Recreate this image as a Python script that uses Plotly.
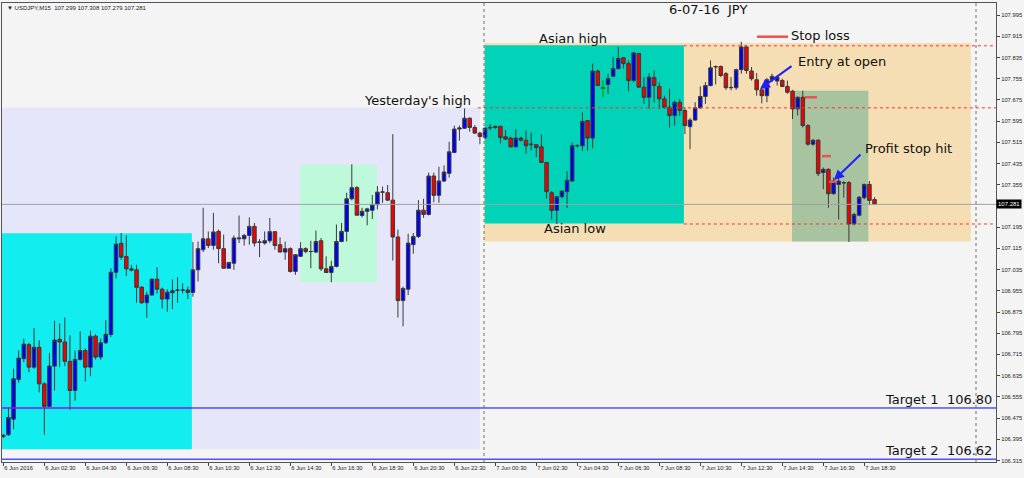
import pandas as pd
import plotly.graph_objects as go

# ---------------- data ----------------
header_text = "\u25bc USDJPY,M15  107.299 107.308 107.279 107.281"
chart_title = "6-07-16\u00a0\u00a0JPY"
first_bar = "2016-06-06 00:30"

opens = [106.405, 106.412, 106.471, 106.620, 106.699, 106.752, 106.667, 106.742, 106.604, 106.519,
         106.671, 106.772, 106.762, 106.689, 106.579, 106.696, 106.730, 106.667, 106.784, 106.705,
         106.759, 106.790, 107.025, 107.134, 107.084, 107.038, 107.034, 106.969, 106.910, 106.939,
         106.999, 106.961, 106.924, 106.948, 106.958, 106.958, 106.958, 106.949, 107.034, 107.110,
         107.151, 107.126, 107.179, 107.114, 107.040, 107.059, 107.151, 107.151, 107.164, 107.198,
         107.138, 107.135, 107.144, 107.178, 107.129, 107.101, 107.114, 107.028, 107.085, 107.114,
         107.103, 107.101, 107.144, 107.038, 107.024, 107.047, 107.141, 107.179, 107.302, 107.344,
         107.239, 107.255, 107.259, 107.280, 107.327, 107.325, 107.297, 107.158, 106.918, 106.961,
         107.129, 107.160, 107.259, 107.243, 107.388, 107.315, 107.369, 107.398, 107.477, 107.565,
         107.568, 107.606, 107.571, 107.550, 107.533, 107.569, 107.571, 107.575, 107.536, 107.531,
         107.498, 107.531, 107.523, 107.506, 107.506, 107.498, 107.439, 107.325, 107.258, 107.310,
         107.329, 107.369, 107.502, 107.502, 107.597, 107.531, 107.784, 107.719, 107.733, 107.764,
         107.793, 107.834, 107.812, 107.748, 107.850, 107.723, 107.685, 107.759, 107.726, 107.679,
         107.647, 107.616, 107.666, 107.635, 107.574, 107.599, 107.645, 107.688, 107.729, 107.799,
         107.801, 107.774, 107.721, 107.721, 107.789, 107.875, 107.784, 107.751, 107.713, 107.691,
         107.751, 107.746, 107.748, 107.726, 107.708, 107.641, 107.685, 107.578, 107.508, 107.523,
         107.401, 107.413, 107.321, 107.356, 107.363, 107.363, 107.207, 107.240, 107.306, 107.356,
         107.299]
highs = [106.415, 106.515, 106.661, 106.730, 106.775, 106.759, 106.815, 106.768, 106.610, 106.721,
         106.842, 106.831, 106.854, 106.787, 106.730, 106.802, 106.737, 106.805, 106.791, 106.775,
         106.844, 107.040, 107.160, 107.173, 107.164, 107.053, 107.053, 106.972, 106.952, 107.002,
         107.044, 106.967, 106.961, 106.998, 107.006, 106.983, 106.971, 107.139, 107.141, 107.268,
         107.179, 107.249, 107.186, 107.167, 107.062, 107.164, 107.239, 107.169, 107.232, 107.211,
         107.150, 107.179, 107.230, 107.179, 107.157, 107.141, 107.119, 107.093, 107.138, 107.119,
         107.144, 107.182, 107.154, 107.085, 107.068, 107.205, 107.211, 107.325, 107.432, 107.350,
         107.268, 107.268, 107.316, 107.350, 107.348, 107.354, 107.546, 107.186, 106.971, 107.170,
         107.173, 107.297, 107.302, 107.401, 107.401, 107.423, 107.428, 107.517, 107.578, 107.578,
         107.643, 107.609, 107.580, 107.555, 107.571, 107.584, 107.578, 107.578, 107.561, 107.536,
         107.565, 107.536, 107.559, 107.552, 107.508, 107.544, 107.441, 107.331, 107.312, 107.334,
         107.407, 107.514, 107.508, 107.628, 107.599, 107.812, 107.789, 107.748, 107.774, 107.837,
         107.875, 107.837, 107.824, 107.856, 107.852, 107.761, 107.776, 107.786, 107.742, 107.691,
         107.717, 107.672, 107.679, 107.647, 107.607, 107.666, 107.726, 107.742, 107.824, 107.805,
         107.805, 107.780, 107.761, 107.793, 107.894, 107.881, 107.799, 107.776, 107.726, 107.758,
         107.774, 107.767, 107.755, 107.748, 107.713, 107.688, 107.710, 107.584, 107.527, 107.527,
         107.420, 107.417, 107.382, 107.382, 107.369, 107.369, 107.249, 107.312, 107.359, 107.369,
         107.308]
lows = [106.400, 106.408, 106.433, 106.608, 106.686, 106.648, 106.661, 106.572, 106.412, 106.515,
        106.579, 106.667, 106.671, 106.506, 106.541, 106.692, 106.613, 106.633, 106.696, 106.694,
        106.754, 106.781, 107.002, 107.072, 107.011, 107.028, 106.910, 106.906, 106.854, 106.937,
        106.945, 106.888, 106.876, 106.886, 106.910, 106.945, 106.924, 106.933, 106.990, 107.101,
        107.116, 107.110, 107.059, 107.040, 107.038, 107.034, 107.135, 107.126, 107.129, 107.122,
        107.082, 107.129, 107.135, 107.110, 107.101, 107.072, 107.024, 107.015, 107.082, 107.097,
        107.040, 107.097, 107.030, 107.024, 106.987, 107.043, 107.138, 107.141, 107.296, 107.240,
        107.232, 107.202, 107.226, 107.262, 107.287, 107.293, 107.069, 106.854, 106.821, 106.939,
        107.095, 107.154, 107.230, 107.239, 107.289, 107.287, 107.365, 107.382, 107.474, 107.521,
        107.565, 107.555, 107.546, 107.508, 107.527, 107.561, 107.565, 107.511, 107.523, 107.495,
        107.495, 107.518, 107.473, 107.485, 107.460, 107.439, 107.303, 107.224, 107.207, 107.303,
        107.268, 107.366, 107.495, 107.483, 107.483, 107.493, 107.729, 107.685, 107.698, 107.761,
        107.789, 107.793, 107.708, 107.742, 107.721, 107.660, 107.641, 107.666, 107.641, 107.641,
        107.571, 107.578, 107.616, 107.546, 107.489, 107.597, 107.642, 107.660, 107.726, 107.733,
        107.761, 107.713, 107.711, 107.713, 107.774, 107.774, 107.748, 107.691, 107.662, 107.666,
        107.742, 107.729, 107.723, 107.698, 107.603, 107.616, 107.571, 107.502, 107.502, 107.388,
        107.338, 107.268, 107.318, 107.224, 107.306, 107.139, 107.202, 107.236, 107.300, 107.278,
        107.279]
closes = [106.410, 106.477, 106.623, 106.701, 106.754, 106.667, 106.742, 106.604, 106.519, 106.671,
          106.769, 106.762, 106.689, 106.579, 106.696, 106.730, 106.667, 106.784, 106.705, 106.759,
          106.791, 107.025, 107.131, 107.082, 107.038, 107.033, 106.968, 106.910, 106.939, 106.999,
          106.961, 106.924, 106.950, 106.955, 106.957, 106.958, 106.949, 107.034, 107.114, 107.151,
          107.126, 107.177, 107.114, 107.040, 107.062, 107.154, 107.154, 107.164, 107.198, 107.135,
          107.139, 107.144, 107.178, 107.126, 107.101, 107.114, 107.028, 107.091, 107.114, 107.103,
          107.103, 107.141, 107.038, 107.024, 107.047, 107.141, 107.179, 107.302, 107.344, 107.240,
          107.255, 107.264, 107.280, 107.327, 107.328, 107.297, 107.158, 106.918, 106.964, 107.135,
          107.160, 107.259, 107.243, 107.388, 107.315, 107.369, 107.403, 107.479, 107.565, 107.569,
          107.606, 107.571, 107.550, 107.537, 107.568, 107.571, 107.575, 107.533, 107.527, 107.498,
          107.531, 107.523, 107.502, 107.508, 107.495, 107.439, 107.329, 107.258, 107.310, 107.331,
          107.372, 107.502, 107.503, 107.594, 107.531, 107.784, 107.729, 107.721, 107.755, 107.793,
          107.831, 107.812, 107.748, 107.852, 107.723, 107.685, 107.761, 107.729, 107.679, 107.647,
          107.616, 107.666, 107.635, 107.578, 107.599, 107.645, 107.688, 107.729, 107.796, 107.801,
          107.767, 107.721, 107.722, 107.789, 107.875, 107.786, 107.755, 107.713, 107.691, 107.751,
          107.764, 107.761, 107.726, 107.704, 107.641, 107.685, 107.578, 107.508, 107.523, 107.397,
          107.413, 107.321, 107.369, 107.369, 107.362, 107.207, 107.243, 107.308, 107.356, 107.296,
          107.281]
green_bar_index = 117

x_tick_labels = ["6 Jun 2016", "6 Jun 02:30", "6 Jun 04:30", "6 Jun 06:30", "6 Jun 08:30",
                 "6 Jun 10:30", "6 Jun 12:30", "6 Jun 14:30", "6 Jun 16:30", "6 Jun 18:30",
                 "6 Jun 20:30", "6 Jun 22:30", "7 Jun 00:30", "7 Jun 02:30", "7 Jun 04:30",
                 "7 Jun 06:30", "7 Jun 08:30", "7 Jun 10:30", "7 Jun 12:30", "7 Jun 14:30",
                 "7 Jun 16:30", "7 Jun 18:30"]
y_tick_values = [107.995, 107.915, 107.835, 107.755, 107.675, 107.595, 107.515, 107.435,
                 107.355, 107.195, 107.115, 107.035, 106.955, 106.875, 106.795, 106.715,
                 106.635, 106.555, 106.475, 106.395, 106.315]
y_tick_labels = ["107.995", "107.915", "107.835", "107.755", "107.675", "107.595", "107.515",
                 "107.435", "107.355", "107.195", "107.115", "107.035", "106.955", "106.875",
                 "106.795", "106.715", "106.635", "106.555", "106.475", "106.395", "106.315"]

bid_price = 107.281
asian_high = 107.879
asian_low = 107.207
yesterday_high = 107.645
target1_line = 106.513
target2_line = 106.320
stop_marks = [107.685, 107.463, 107.366]

# ---------------- helpers ----------------
times = pd.date_range(first_bar, periods=len(opens), freq="15min")
x_tick_times = list(times[::8])


def T(b):
    return str(times[0] + pd.Timedelta(minutes=15 * b))


L, R, TOP, BOT = 2, 996, 3, 462


def PX(x):
    return (x - L) / (R - L)


def PY(y):
    return (BOT - y) / (BOT - TOP)


fig = go.Figure()
fig.add_trace(go.Candlestick(
    x=times, open=opens, high=highs, low=lows, close=closes,
    increasing=dict(line=dict(color="#3a3a3a", width=1), fillcolor="#0000f0"),
    decreasing=dict(line=dict(color="#3a3a3a", width=1), fillcolor="#f00000"),
    whiskerwidth=0, showlegend=False, hoverinfo="skip"))
fig.add_trace(go.Scatter(
    x=[times[green_bar_index], times[green_bar_index]],
    y=[lows[green_bar_index], highs[green_bar_index]],
    mode="lines", line=dict(color="#00e000", width=1), showlegend=False, hoverinfo="skip"))

shapes = []


def rect(b0, b1, p0, p1, color):
    shapes.append(dict(type="rect", xref="x", yref="y", x0=T(b0), x1=T(b1), y0=p0, y1=p1,
                       fillcolor=color, line=dict(width=0), layer="below"))


rect(-2, 93.0, 106.357, 107.646, "#e6e6fa")      # yesterday range
rect(-2, 36.8, 106.357, 107.172, "#12eef0")      # morning box
rect(57.9, 72.9, 106.987, 107.430, "#bdf9da")    # afternoon box
rect(93.8, 188.8, 107.141, 107.890, "#f5deb3")   # today range
rect(93.95, 132.8, 107.209, 107.881, "#00d3b8")  # asian session
rect(153.9, 168.8, 107.141, 107.710, "#a8c3a0")  # trade box


def hline(b0, b1, p, color, dash="solid", width=1, layer="above"):
    shapes.append(dict(type="line", xref="x", yref="y", x0=T(b0), x1=T(b1), y0=p, y1=p,
                       line=dict(color=color, width=width, dash=dash), layer=layer))


def vline(b, color):
    shapes.append(dict(type="line", xref="x", yref="paper", x0=T(b), x1=T(b), y0=0, y1=1,
                       line=dict(color=color, width=1, dash="dot"), layer="above"))


hline(-2, 210, bid_price, "#a0a0a0")
hline(-2, 210, target1_line, "#0000ff")
hline(-2, 36.8, target1_line, "#d020f0")
hline(-2, 210, target2_line, "#0000ff")
hline(132.8, 210, asian_high, "#ff3030", "dot")
hline(92.6, 210, yesterday_high, "#ff3030", "dot")
hline(132.8, 210, asian_low, "#ff3030", "dot")
vline(93.8, "#707070")
vline(189.8, "#707070")

# stop loss legend swatch and small stop marks
shapes.append(dict(type="line", xref="paper", yref="paper", x0=PX(757), x1=PX(788),
                   y0=PY(36.7), y1=PY(36.7), line=dict(color="#f05050", width=2.5)))
for (xa, xb), p in zip([(805, 817), (822, 831), (829, 837)], stop_marks):
    shapes.append(dict(type="line", xref="paper", yref="y", x0=PX(xa), x1=PX(xb),
                       y0=p, y1=p, line=dict(color="#f05050", width=2.5)))

ann = []
FONT = dict(family="DejaVu Sans", size=13, color="#111111")


def label(text, x, y, xanchor="center"):
    ann.append(dict(text=text, xref="paper", yref="paper", x=PX(x), y=PY(y),
                    xanchor=xanchor, yanchor="middle", showarrow=False, font=FONT))


label(chart_title, 708, 10)
label("Asian high", 572.5, 38)
label("Yesterday's high", 417, 101)
label("Asian low", 575, 229)
label("Stop loss", 820, 35)
label("Entry at open", 842, 61)
label("Profit stop hit", 908, 148.5)
label("Target 1\u00a0\u00a0106.80", 994, 399.5, "right")
label("Target 2\u00a0\u00a0106.62", 994, 450.5, "right")

for hx, hy, tx, ty in [(760, 89, 793, 65), (834, 180, 862, 153)]:
    ann.append(dict(text="", xref="paper", yref="paper", x=PX(hx), y=PY(hy),
                    ax=tx - hx, ay=ty - hy, showarrow=True, arrowhead=2, arrowsize=1,
                    arrowwidth=2, arrowcolor="#2020ff"))

ann.append(dict(text=header_text, xref="paper", yref="paper", x=PX(5), y=PY(8),
                xanchor="left", yanchor="middle", showarrow=False,
                font=dict(family="Liberation Sans", size=6, color="#222222")))
ann.append(dict(text=f"{bid_price:.3f}", xref="paper", yref="y", x=1.0, y=bid_price,
                xanchor="left", yanchor="middle", showarrow=False, bgcolor="#000000",
                borderpad=1, font=dict(family="Liberation Sans", size=6, color="#ffffff")))

fig.update_layout(
    width=1024, height=478,
    margin=dict(l=L, r=1024 - R, t=TOP, b=478 - BOT, pad=0),
    paper_bgcolor="#f4f4f4", plot_bgcolor="#f4f4f4",
    boxgap=0.17, boxgroupgap=0.17,
    showlegend=False, shapes=shapes, annotations=ann,
    xaxis=dict(type="date", range=[T(-0.254), T(193.7)], tickvals=x_tick_times,
               ticktext=x_tick_labels, ticks="outside", ticklen=3, tickcolor="#444444",
               ticklabelposition="outside right",
               tickfont=dict(family="Liberation Sans", size=5.8, color="#222222"),
               showgrid=False, zeroline=False, showline=True, linecolor="#555555",
               mirror=True, rangeslider=dict(visible=False), fixedrange=True),
    yaxis=dict(side="right", range=[106.3093, 108.0405], tickvals=y_tick_values,
               ticktext=y_tick_labels, ticks="outside", ticklen=3, tickcolor="#444444",
               tickfont=dict(family="Liberation Sans", size=5.8, color="#222222"),
               showgrid=False, zeroline=False, showline=True, linecolor="#555555",
               mirror=True, fixedrange=True),
)

fig.write_html("out.html", config=dict(displayModeBar=False),
               post_script="document.body.style.margin='0';")
